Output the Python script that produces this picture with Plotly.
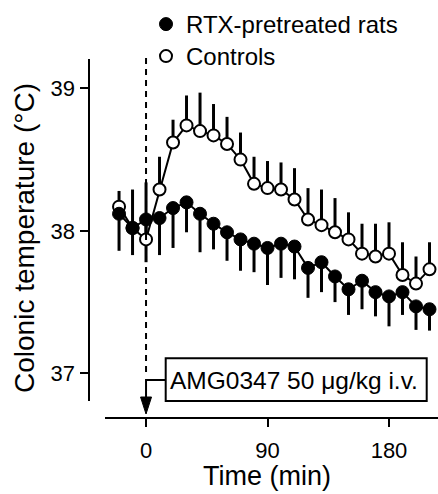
import plotly.graph_objects as go

# ---- data ----
time_min = [-20, -10, 0, 10, 20, 30, 40, 50, 60, 70, 80, 90, 100, 110,
            120, 130, 140, 150, 160, 170, 180, 190, 200, 210]
rtx_mean = [38.12, 38.02, 38.08, 38.09, 38.16, 38.20, 38.12, 38.05, 37.99, 37.94,
            37.91, 37.88, 37.91, 37.89, 37.74, 37.78, 37.68, 37.59, 37.65, 37.57,
            37.54, 37.57, 37.47, 37.45]
rtx_sem = [0.26, 0.19, 0.30, 0.26, 0.28, 0.21, 0.27, 0.18, 0.20, 0.22,
           0.20, 0.26, 0.24, 0.23, 0.21, 0.21, 0.18, 0.18, 0.20, 0.17,
           0.21, 0.16, 0.165, 0.15]
ctrl_mean = [38.17, 38.02, 37.94, 38.29, 38.62, 38.74, 38.70, 38.67, 38.61, 38.50,
             38.33, 38.30, 38.29, 38.22, 38.08, 38.04, 37.99, 37.94, 37.84, 37.82,
             37.84, 37.69, 37.63, 37.73]
ctrl_sem = [0.11, 0.27, 0.40, 0.23, 0.16, 0.21, 0.27, 0.22, 0.19, 0.19,
            0.19, 0.19, 0.19, 0.22, 0.22, 0.25, 0.24, 0.19, 0.21, 0.23,
            0.22, 0.23, 0.19, 0.19]
x_ticks = [0, 90, 180]
y_ticks = [37, 38, 39]
series_names = ["RTX-pretreated rats", "Controls"]
injection_time = 0
injection_label = "AMG0347 50 \u03bcg/kg i.v."

# ---- layout geometry ----
W, H = 438, 494
FONT = "Liberation Sans, Arial, sans-serif"
X_RANGE = [-30.4, 216.3]
Y_RANGE = [36.806, 39.206]
XD = [105 / W, 1.0]
YD = [1 - 401 / H, 1 - 59 / H]


def px(x):
    return x / W


def py(y):
    return 1 - y / H


def xdata_to_paper(v):
    return XD[0] + (v - X_RANGE[0]) / (X_RANGE[1] - X_RANGE[0]) * (XD[1] - XD[0])


zeros = [0] * len(time_min)
fig = go.Figure()

# lines + error bars (drawn beneath markers)
fig.add_trace(go.Scatter(
    x=time_min, y=ctrl_mean, mode="lines", line=dict(color="black", width=2),
    error_y=dict(type="data", symmetric=False, array=ctrl_sem, arrayminus=zeros,
                 color="black", thickness=3, width=0),
    showlegend=False, hoverinfo="skip"))
fig.add_trace(go.Scatter(
    x=time_min, y=rtx_mean, mode="lines", line=dict(color="black", width=2),
    error_y=dict(type="data", symmetric=False, array=zeros, arrayminus=rtx_sem,
                 color="black", thickness=3, width=0),
    showlegend=False, hoverinfo="skip"))
# markers
fig.add_trace(go.Scatter(
    x=time_min, y=ctrl_mean, mode="markers", name=series_names[1],
    legend="legend2",
    marker=dict(symbol="circle", size=12, color="white",
                line=dict(color="black", width=2))))
fig.add_trace(go.Scatter(
    x=time_min, y=rtx_mean, mode="markers", name=series_names[0],
    legend="legend",
    marker=dict(symbol="circle", size=13, color="black",
                line=dict(color="black", width=1))))

x0p = xdata_to_paper(injection_time)
shapes = [
    # dashed injection line
    dict(type="line", xref="paper", yref="paper", x0=x0p, x1=x0p,
         y0=py(58), y1=py(373), line=dict(color="black", width=2, dash="6px,5px")),
    # arrow connector
    dict(type="path", xref="paper", yref="paper",
         path=f"M {px(165.7)},{py(380)} L {x0p},{py(380)} L {x0p},{py(398)}",
         line=dict(color="black", width=2)),
    dict(type="path", xref="paper", yref="paper",
         path=f"M {x0p - px(5.5)},{py(397)} L {x0p + px(5.5)},{py(397)} L {x0p},{py(414)} Z",
         fillcolor="black", line=dict(color="black", width=1)),
    # label box
    dict(type="rect", xref="paper", yref="paper", x0=px(165.7), x1=px(426.7),
         y0=py(401), y1=py(358.3), line=dict(color="black", width=2),
         fillcolor="white"),
]

annotations = [
    dict(text=injection_label, xref="paper", yref="paper",
         x=px(294), y=py(380), xanchor="center", yanchor="middle",
         showarrow=False, font=dict(family=FONT, size=24.5, color="black")),
    dict(text="Time (min)", xref="paper", yref="paper", x=px(267), y=py(476),
         xanchor="center", yanchor="middle", showarrow=False,
         font=dict(family=FONT, size=27, color="black")),
    dict(text="Colonic temperature (\u00b0C)", xref="paper", yref="paper",
         x=px(24), y=py(238), xanchor="center", yanchor="middle",
         textangle=-90, showarrow=False,
         font=dict(family=FONT, size=28, color="black")),
]

legend_style = dict(xanchor="left", yanchor="top", bgcolor="rgba(0,0,0,0)",
                    font=dict(family=FONT, size=24, color="black"),
                    itemsizing="trace", tracegroupgap=0)

fig.update_layout(
    width=W, height=H,
    margin=dict(l=0, r=0, t=0, b=0, autoexpand=False),
    paper_bgcolor="white", plot_bgcolor="white",
    font=dict(family=FONT, size=22, color="black"),
    shapes=shapes, annotations=annotations,
    showlegend=True,
    legend=dict(x=px(146), y=py(2), **legend_style),
    legend2=dict(x=px(146), y=py(34), **legend_style),
    xaxis=dict(domain=XD, anchor="free", position=py(418), range=X_RANGE,
               showgrid=False, zeroline=False, showline=True, linecolor="black",
               linewidth=2, ticks="outside", ticklen=8, tickwidth=2,
               tickcolor="black", tickvals=x_ticks, ticktext=[str(v) for v in x_ticks],
               ticklabelstandoff=5,
               tickfont=dict(family=FONT, size=22, color="black"), automargin=False),
    yaxis=dict(domain=YD, anchor="free", position=px(88.5), range=Y_RANGE,
               showgrid=False, zeroline=False, showline=True, linecolor="black",
               linewidth=2, ticks="outside", ticklen=8, tickwidth=2,
               tickcolor="black", tickvals=y_ticks, ticktext=[str(v) for v in y_ticks],
               tickfont=dict(family=FONT, size=22, color="black"), automargin=False),
)

fig.write_html("out.html", config={"displayModeBar": False},
               post_script="document.body.style.margin='0';")
